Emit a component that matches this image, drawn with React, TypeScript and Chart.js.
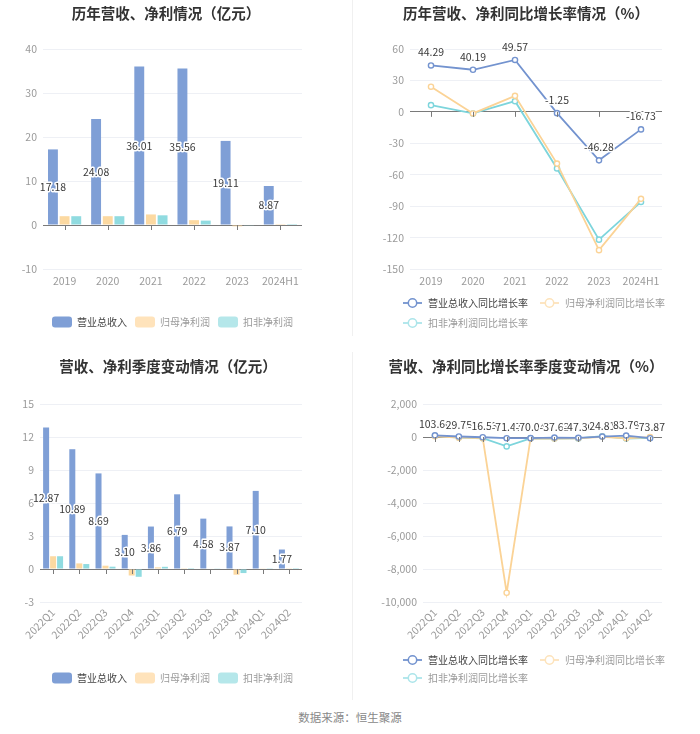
import React, { useEffect, useRef } from 'react';
import { Chart, registerables } from 'chart.js';

Chart.register(...registerables);

const FONT = '"Noto Sans CJK SC", "Noto Sans", sans-serif';

// ---------- data ----------
const years = ['2019', '2020', '2021', '2022', '2023', '2024H1'];
const yearRevenue = [17.18, 24.08, 36.01, 35.56, 19.11, 8.87];
const yearNetProfit = [2.0, 2.0, 2.4, 1.1, -0.3, 0.03];
const yearDeductedProfit = [2.0, 2.0, 2.2, 1.0, -0.15, 0.02];

const yearRevenueGrowth = [44.29, 40.19, 49.57, -1.25, -46.28, -16.73];
const yearNetGrowth = [24, -1.5, 15.3, -49.4, -132, -83];
const yearDeductedGrowth = [6.4, -1.5, 10.2, -54, -122, -86];

const quarters = ['2022Q1', '2022Q2', '2022Q3', '2022Q4', '2023Q1', '2023Q2', '2023Q3', '2023Q4', '2024Q1', '2024Q2'];
const qRevenue = [12.87, 10.89, 8.69, 3.1, 3.86, 6.79, 4.58, 3.87, 7.1, 1.77];
const qNetProfit = [1.16, 0.51, 0.3, -0.59, 0.15, 0.02, 0.05, -0.52, 0.03, 0.02];
const qDeductedProfit = [1.16, 0.45, 0.21, -0.71, 0.2, 0.01, 0.03, -0.37, 0.02, 0.01];

const qRevenueGrowth = [103.6, 29.75, -16.53, -71.47, -70.04, -37.63, -47.3, 24.81, 83.79, -73.87];
const qNetGrowth = [45, -40, -70, -9440, -87, -96, -83, 12, -80, -10];
const qDeductedGrowth = [70, -35, -75, -570, -83, -98, -86, 48, -90, -50];

const amountSeriesNames = ['营业总收入', '归母净利润', '扣非净利润'];
const growthSeriesNames = ['营业总收入同比增长率', '归母净利润同比增长率', '扣非净利润同比增长率'];

// ---------- styles ----------
const BAR_COLORS = ['#7f9fd6', '#fcd9a1', '#90dbe0'];
const BAR_LEGEND_COLORS = ['#7f9fd6', '#ffe3bb', '#b5e7ea'];
const LINE_COLORS = ['#7393cf', '#fbd396', '#7dd5dc'];
const LINE_LEGEND_COLORS = ['#7393cf', '#fde3bb', '#ace5ea'];
const LEGEND_TEXT = ['#444', '#9a9a9a', '#9a9a9a'];
const ZERO_COLOR = '#7a7a7a';
const GRID_COLOR = '#eef0f5';
const TICK_COLOR = '#9a9a9a';

type Area = { left: number; top: number; right: number; bottom: number };
type LegendItem = { text: string; color: string; textColor: string; kind: 'bar' | 'line' };
type DecorCfg = {
  title: string;
  titleX: number;
  titleY: number;
  legend: LegendItem[];
  legendRows: number[][];
  legendX: number;
  legendYs: number[];
  itemGap: number;
  labelMode: 'barCenter' | 'above';
  labelOffset: number;
};

function makeDecor(cfg: DecorCfg) {
  return {
    id: 'decor',
    afterDatasetsDraw(chart: any) {
      const ctx = chart.ctx;
      const xs = chart.scales.x;
      const ys = chart.scales.y;
      const y0 = ys.getPixelForValue(0);
      ctx.save();
      ctx.strokeStyle = ZERO_COLOR;
      ctx.lineWidth = 1;
      const n = chart.data.labels.length;
      for (let i = 0; i < n; i++) {
        const x = Math.round(xs.getPixelForTick(i)) + 0.5;
        ctx.beginPath();
        ctx.moveTo(x, y0);
        ctx.lineTo(x, y0 + 5);
        ctx.stroke();
      }
      const meta = chart.getDatasetMeta(0);
      const values = chart.data.datasets[0].data as number[];
      ctx.font = `10.5px ${FONT}`;
      ctx.textAlign = 'center';
      ctx.textBaseline = 'middle';
      ctx.lineJoin = 'round';
      meta.data.forEach((el: any, i: number) => {
        const txt = Number(values[i]).toFixed(2);
        const x = el.x;
        const y = cfg.labelMode === 'barCenter' ? (el.y + el.base) / 2 : el.y - cfg.labelOffset;
        ctx.lineWidth = 3;
        ctx.strokeStyle = '#ffffff';
        ctx.strokeText(txt, x, y);
        ctx.fillStyle = '#3a3a3a';
        ctx.fillText(txt, x, y);
      });
      ctx.restore();
    },
    afterDraw(chart: any) {
      const ctx = chart.ctx;
      ctx.save();
      ctx.font = `bold 14.5px ${FONT}`;
      ctx.fillStyle = '#333';
      ctx.textAlign = 'center';
      ctx.textBaseline = 'middle';
      ctx.fillText(cfg.title, cfg.titleX, cfg.titleY);
      ctx.font = `10px ${FONT}`;
      ctx.textAlign = 'left';
      cfg.legendRows.forEach((row, r) => {
        let x = cfg.legendX;
        const y = cfg.legendYs[r];
        row.forEach((idx) => {
          const it = cfg.legend[idx];
          if (it.kind === 'bar') {
            ctx.fillStyle = it.color;
            ctx.beginPath();
            (ctx as any).roundRect(x, y - 5.5, 20, 11, 3);
            ctx.fill();
          } else {
            ctx.strokeStyle = it.color;
            ctx.lineWidth = 1.8;
            ctx.beginPath();
            ctx.moveTo(x, y);
            ctx.lineTo(x + 19, y);
            ctx.stroke();
            ctx.beginPath();
            ctx.arc(x + 9.5, y, 4.2, 0, Math.PI * 2);
            ctx.fillStyle = '#fff';
            ctx.fill();
            ctx.lineWidth = 1.5;
            ctx.stroke();
          }
          const tx = x + 25;
          ctx.fillStyle = it.textColor;
          ctx.fillText(it.text, tx, y + 0.5);
          x = tx + ctx.measureText(it.text).width + cfg.itemGap;
        });
      });
      ctx.restore();
    },
  };
}

function baseOptions(area: Area, w: number, h: number, yMin: number, yMax: number, yStep: number, rotate: number, offset: boolean) {
  return {
    responsive: false,
    animation: false,
    events: [],
    layout: { padding: { top: area.top, right: w - area.right, left: 0, bottom: 0 } },
    plugins: { legend: { display: false }, title: { display: false }, tooltip: { enabled: false } },
    scales: {
      x: {
        offset,
        grid: { display: false, drawTicks: false },
        border: { display: false },
        ticks: {
          color: TICK_COLOR,
          font: { size: 10.5, family: FONT },
          padding: rotate ? 4 : 6,
          autoSkip: false,
          maxRotation: rotate,
          minRotation: rotate,
        },
        afterFit: (s: any) => {
          s.height = h - area.bottom;
        },
      },
      y: {
        min: yMin,
        max: yMax,
        ticks: { stepSize: yStep, color: TICK_COLOR, font: { size: 10.5, family: FONT }, padding: 6 },
        grid: {
          drawTicks: false,
          lineWidth: 1,
          color: (c: any) => (c.tick && c.tick.value === 0 ? ZERO_COLOR : GRID_COLOR),
        },
        border: { display: false },
        afterFit: (s: any) => {
          s.width = area.left;
        },
      },
    },
  };
}

function barConfig(labels: string[], series: number[][], area: Area, w: number, h: number, yMin: number, yMax: number, yStep: number, rotate: number, catPct: number, barPct: number, decor: DecorCfg) {
  return {
    type: 'bar',
    data: {
      labels,
      datasets: series.map((d, i) => ({
        label: amountSeriesNames[i],
        data: d,
        backgroundColor: BAR_COLORS[i],
        categoryPercentage: catPct,
        barPercentage: barPct,
      })),
    },
    options: baseOptions(area, w, h, yMin, yMax, yStep, rotate, true),
    plugins: [makeDecor(decor)],
  };
}

function lineConfig(labels: string[], series: number[][], area: Area, w: number, h: number, yMin: number, yMax: number, yStep: number, rotate: number, decor: DecorCfg) {
  return {
    type: 'line',
    data: {
      labels,
      datasets: series.map((d, i) => ({
        label: growthSeriesNames[i],
        data: d,
        borderColor: LINE_COLORS[i],
        backgroundColor: LINE_COLORS[i],
        borderWidth: 1.8,
        pointRadius: 2.6,
        pointBorderWidth: 1.4,
        pointBackgroundColor: '#ffffff',
        pointBorderColor: LINE_COLORS[i],
        tension: 0,
        fill: false,
      })),
    },
    options: baseOptions(area, w, h, yMin, yMax, yStep, rotate, true),
    plugins: [makeDecor(decor)],
  };
}

const barLegend: LegendItem[] = amountSeriesNames.map((t, i) => ({ text: t, color: BAR_LEGEND_COLORS[i], textColor: LEGEND_TEXT[i], kind: 'bar' }));
const lineLegend: LegendItem[] = growthSeriesNames.map((t, i) => ({ text: t, color: LINE_LEGEND_COLORS[i], textColor: LEGEND_TEXT[i], kind: 'line' }));

function Panel({ left, top, width, height, make }: { left: number; top: number; width: number; height: number; make: () => any }) {
  const ref = useRef<HTMLCanvasElement>(null);
  useEffect(() => {
    const chart = new Chart(ref.current as HTMLCanvasElement, make());
    return () => chart.destroy();
  }, []);
  return (
    <canvas
      ref={ref}
      width={width}
      height={height}
      style={{ position: 'absolute', left, top, width, height, display: 'block' }}
    />
  );
}

export default function App() {
  useEffect(() => {
    document.body.style.margin = '0';
  }, []);
  return (
    <div style={{ position: 'absolute', left: 0, top: 0, width: 700, height: 734, background: '#fff', overflow: 'hidden' }}>
      <Panel
        left={0}
        top={0}
        width={350}
        height={345}
        make={() =>
          barConfig(years, [yearRevenue, yearNetProfit, yearDeductedProfit], { left: 43, top: 49, right: 302, bottom: 269 }, 350, 345, -10, 40, 10, 0, 0.81, 0.85, {
            title: '历年营收、净利情况（亿元）',
            titleX: 166,
            titleY: 13,
            legend: barLegend,
            legendRows: [[0, 1, 2]],
            legendX: 52,
            legendYs: [322],
            itemGap: 8,
            labelMode: 'barCenter',
            labelOffset: 0,
          })
        }
      />
      <Panel
        left={350}
        top={0}
        width={350}
        height={345}
        make={() =>
          lineConfig(years, [yearRevenueGrowth, yearNetGrowth, yearDeductedGrowth], { left: 60, top: 49, right: 312, bottom: 269 }, 350, 345, -150, 60, 30, 0, {
            title: '历年营收、净利同比增长率情况（%）',
            titleX: 176,
            titleY: 13,
            legend: lineLegend,
            legendRows: [[0, 1], [2]],
            legendX: 53,
            legendYs: [303, 323],
            itemGap: 12,
            labelMode: 'above',
            labelOffset: 13,
          })
        }
      />
      <Panel
        left={0}
        top={350}
        width={350}
        height={350}
        make={() =>
          barConfig(quarters, [qRevenue, qNetProfit, qDeductedProfit], { left: 40, top: 54, right: 302, bottom: 252 }, 350, 350, -3, 15, 3, 45, 0.8, 0.86, {
            title: '营收、净利季度变动情况（亿元）',
            titleX: 168,
            titleY: 16,
            legend: barLegend,
            legendRows: [[0, 1, 2]],
            legendX: 52,
            legendYs: [328],
            itemGap: 8,
            labelMode: 'barCenter',
            labelOffset: 0,
          })
        }
      />
      <Panel
        left={350}
        top={350}
        width={350}
        height={350}
        make={() =>
          lineConfig(quarters, [qRevenueGrowth, qNetGrowth, qDeductedGrowth], { left: 73, top: 54, right: 312, bottom: 252 }, 350, 350, -10000, 2000, 2000, 45, {
            title: '营收、净利同比增长率季度变动情况（%）',
            titleX: 176,
            titleY: 16,
            legend: lineLegend,
            legendRows: [[0, 1], [2]],
            legendX: 53,
            legendYs: [310, 328],
            itemGap: 12,
            labelMode: 'above',
            labelOffset: 11,
          })
        }
      />
      <div style={{ position: 'absolute', left: 352, top: 0, width: 1, height: 336, background: '#f0f0f0' }} />
      <div style={{ position: 'absolute', left: 352, top: 352, width: 1, height: 348, background: '#f0f0f0' }} />
      <div
        style={{
          position: 'absolute',
          left: 0,
          top: 708,
          width: 700,
          textAlign: 'center',
          fontFamily: FONT,
          fontSize: 11.5,
          lineHeight: '18px',
          color: '#888',
        }}
      >
        数据来源：恒生聚源
      </div>
    </div>
  );
}
